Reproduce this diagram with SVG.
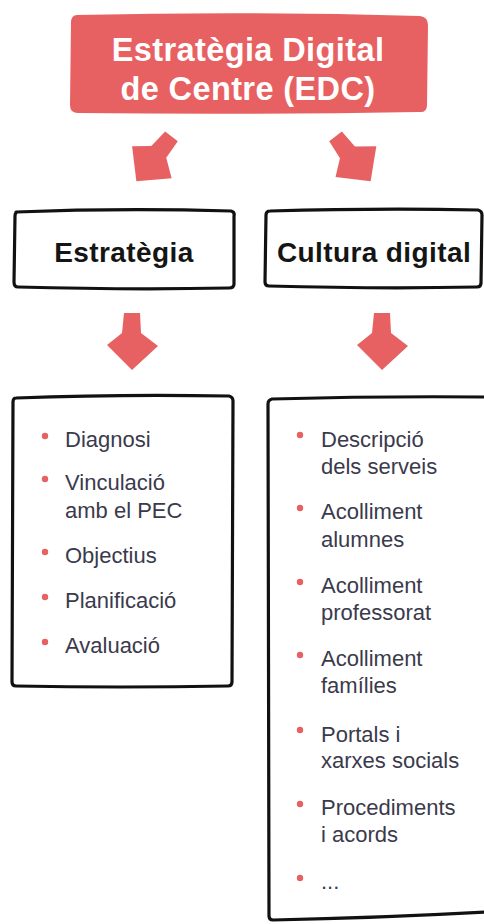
<svg xmlns="http://www.w3.org/2000/svg" width="484" height="924" viewBox="0 0 484 924">
<style>
.red{fill:#e86162}
.box{fill:#fff;stroke:#111;stroke-width:3.2;stroke-linejoin:round;stroke-linecap:round}
.title{font-family:"Liberation Sans",Arial,sans-serif;font-weight:bold;font-size:32.5px;fill:#fff;letter-spacing:0.4px;text-anchor:middle}
.head{font-family:"Liberation Sans",Arial,sans-serif;font-weight:bold;font-size:28px;fill:#151515;letter-spacing:0.4px;text-anchor:middle}
.item{font-family:"Liberation Sans",Arial,sans-serif;font-size:22px;fill:#3a3a4c}
.dot{fill:#e86162}
</style>
<defs>
<path id="arr" d="M-8,0 L8,0 L9,20 L26,33 L0,57 L-25,32 L-10,20 Z"/>
</defs>
<rect width="484" height="924" fill="#fff"/>

<g id="edc">
<path class="red" d="M77,15 Q250,11 420,16 Q428,17 428,25 L427,105 Q427,113 419,112 Q250,115 78,113 Q70,113 70,105 L71,23 Q71,15 77,15 Z"/>
<text class="title" x="248" y="61">Estratègia Digital</text>
<text class="title" x="248" y="100">de Centre (EDC)</text>
</g>

<g id="connectors">
<use href="#arr" class="red" transform="translate(153,160) rotate(38) translate(0,-30)"/>
<use href="#arr" class="red" transform="translate(354,160) rotate(-38) translate(0,-30)"/>
<use href="#arr" class="red" transform="translate(132,313)"/>
<use href="#arr" class="red" transform="translate(382,313)"/>
</g>

<g id="estrategia">
<path class="box" d="M16,212 Q120,208 231,211 Q235,212 234,216 L234,284 Q234,288 229,288 Q130,290 18,287 Q14,287 14,282 L15,216 Q15,212 18,212 Z"/>
<text class="head" x="124" y="262">Estratègia</text>
</g>

<g id="cultura">
<path class="box" d="M270,211 Q380,208 478,210 Q482,211 482,215 L481,283 Q481,287 477,287 Q380,289 269,286 Q265,286 265,282 L266,215 Q266,211 270,211 Z"/>
<text class="head" x="374" y="262">Cultura digital</text>
</g>

<g id="estrategia-list">
<path class="box" d="M16,398 Q120,394 229,396 Q233,397 233,401 L232,682 Q232,686 228,686 Q120,688 16,686 Q12,686 12,682 L13,402 Q13,398 16,398 Z"/>
<circle class="dot" cx="45" cy="436" r="3.2"/>
<text class="item" x="65" y="447">Diagnosi</text>
<circle class="dot" cx="45" cy="479" r="3.2"/>
<text class="item" x="65" y="490">Vinculació</text>
<text class="item" x="65" y="518">amb el PEC</text>
<circle class="dot" cx="45" cy="552" r="3.2"/>
<text class="item" x="65" y="563">Objectius</text>
<circle class="dot" cx="45" cy="597" r="3.2"/>
<text class="item" x="65" y="608">Planificació</text>
<circle class="dot" cx="45" cy="642" r="3.2"/>
<text class="item" x="65" y="653">Avaluació</text>
</g>

<g id="cultura-list">
<path class="box" d="M486,397 Q380,396 272,399 Q268,400 268,404 L269,916 Q269,920 273,920 Q380,918 488,912"/>
<circle class="dot" cx="300" cy="435" r="3.2"/>
<text class="item" x="321" y="447">Descripció</text>
<text class="item" x="321" y="474">dels serveis</text>
<circle class="dot" cx="300" cy="508" r="3.2"/>
<text class="item" x="321" y="519">Acolliment</text>
<text class="item" x="321" y="547">alumnes</text>
<circle class="dot" cx="300" cy="582" r="3.2"/>
<text class="item" x="321" y="593">Acolliment</text>
<text class="item" x="321" y="620">professorat</text>
<circle class="dot" cx="300" cy="655" r="3.2"/>
<text class="item" x="321" y="666">Acolliment</text>
<text class="item" x="321" y="693">famílies</text>
<circle class="dot" cx="300" cy="730" r="3.2"/>
<text class="item" x="321" y="742">Portals i</text>
<text class="item" x="321" y="768">xarxes socials</text>
<circle class="dot" cx="300" cy="804" r="3.2"/>
<text class="item" x="321" y="815">Procediments</text>
<text class="item" x="321" y="842">i acords</text>
<circle class="dot" cx="300" cy="878" r="3.2"/>
<text class="item" x="321" y="889">...</text>
</g>
</svg>
